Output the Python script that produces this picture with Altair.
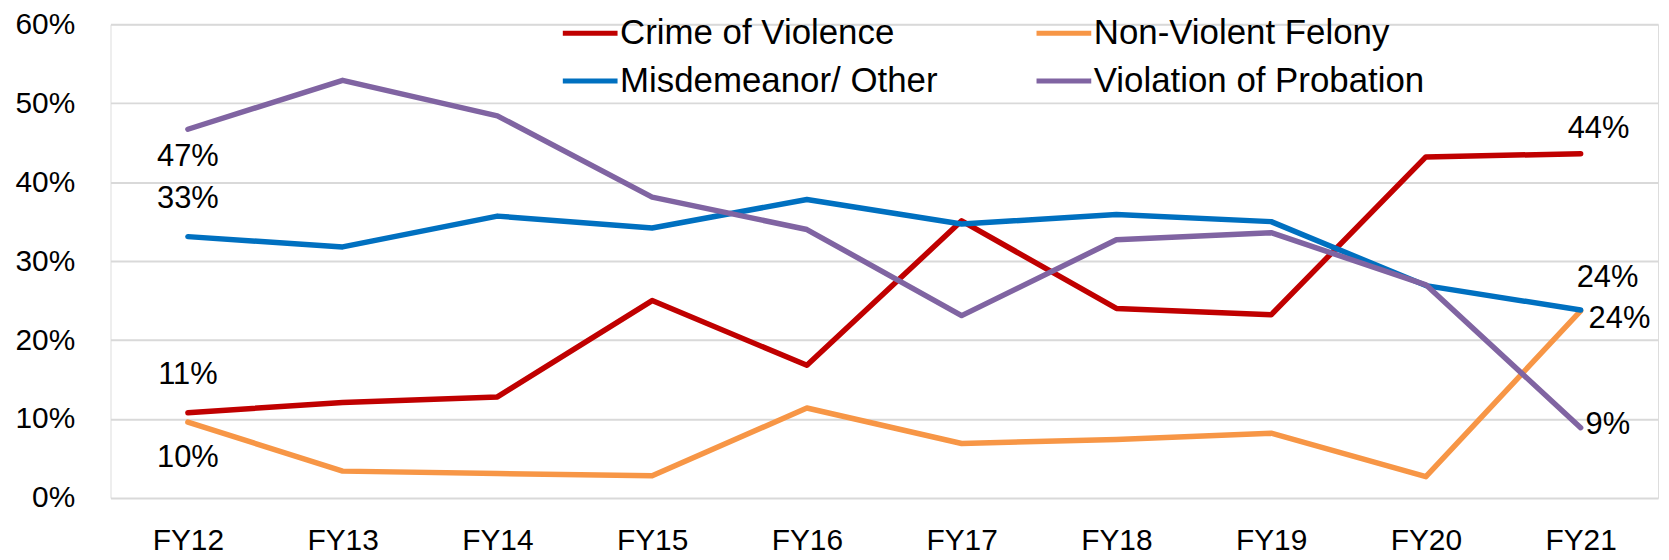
import altair as alt
import pandas as pd

years = ["FY12", "FY13", "FY14", "FY15", "FY16", "FY17", "FY18", "FY19", "FY20", "FY21"]
series_names = ["Crime of Violence", "Non-Violent Felony", "Misdemeanor/ Other", "Violation of Probation"]
crime_of_violence = [0.108, 0.121, 0.128, 0.250, 0.168, 0.351, 0.240, 0.232, 0.432, 0.436]
non_violent_felony = [0.096, 0.034, 0.031, 0.028, 0.114, 0.069, 0.074, 0.082, 0.027, 0.237]
misdemeanor_other = [0.331, 0.318, 0.357, 0.342, 0.378, 0.347, 0.359, 0.350, 0.269, 0.238]
violation_of_probation = [0.467, 0.529, 0.484, 0.381, 0.340, 0.231, 0.327, 0.336, 0.270, 0.089]
colors = ["#C00000", "#F79646", "#0070C0", "#8064A2"]

# labelled points
label_series = ["Violation of Probation", "Misdemeanor/ Other", "Crime of Violence", "Non-Violent Felony",
                "Crime of Violence", "Misdemeanor/ Other", "Non-Violent Felony", "Violation of Probation"]
label_years = ["FY12", "FY12", "FY12", "FY12", "FY21", "FY21", "FY21", "FY21"]

# label styles (dx, dy, align)
label_styles = [(0, 37, "center"), (0, -29, "center"), (0, -29, "center"), (0, 45, "center"),
                (18, -16, "center"), (27, -23, "center"), (8, 17, "left"), (5, 6, "left")]

FONT = "Liberation Sans"

all_values = [crime_of_violence, non_violent_felony, misdemeanor_other, violation_of_probation]
rows = []
for s_i, (name, vals) in enumerate(zip(series_names, all_values)):
    for y_i, (yr, v) in enumerate(zip(years, vals)):
        rows.append({"series": name, "year": yr, "value": v, "order": s_i})
df = pd.DataFrame(rows)

x_enc = alt.X("year:N", sort=years, scale=alt.Scale(padding=0.5),
              axis=alt.Axis(title=None, labelAngle=0, ticks=False, tickSize=0, domain=False,
                            labelPadding=28, labelFontSize=30, labelFont=FONT, labelColor="#000000",
                            grid=False))
y_enc = alt.Y("value:Q", scale=alt.Scale(domain=[0, 0.6], nice=False),
              axis=alt.Axis(title=None, values=[0, 0.1, 0.2, 0.3, 0.4, 0.5, 0.6], format=".0%",
                            ticks=False, domain=False, labelPadding=36, labelFontSize=30,
                            labelFont=FONT, labelColor="#000000", gridColor="#D9D9D9", gridWidth=2))

color_enc = alt.Color("series:N", sort=series_names,
                      scale=alt.Scale(domain=series_names, range=colors),
                      legend=alt.Legend(title=None, orient="none", legendX=452, legendY=-21,
                                        direction="horizontal",
                                        columns=2, symbolType="stroke", symbolSize=3025,
                                        symbolStrokeWidth=5, labelFontSize=35, labelFont=FONT,
                                        labelColor="#000000", labelOffset=0, columnPadding=88,
                                        rowPadding=-8, padding=0, labelLimit=0))

lines = alt.Chart(df).mark_line(strokeWidth=5.5, strokeJoin="round", strokeCap="round").encode(
    x=x_enc, y=y_enc, color=color_enc, order=alt.Order("order:Q")
)

layers = [lines]
for s, yr, (dx, dy, al) in zip(label_series, label_years, label_styles):
    t = alt.Chart(df).transform_filter(
        (alt.datum.series == s) & (alt.datum.year == yr)
    ).mark_text(dx=dx, dy=dy, align=al, baseline="alphabetic", fontSize=31, font=FONT,
                color="#000000").encode(
        x=alt.X("year:N", sort=years),
        y=alt.Y("value:Q"),
        text=alt.Text("value:Q", format=".0%"),
    )
    layers.append(t)

chart = alt.layer(*layers).properties(
    width=1555, height=476,
    autosize=alt.AutoSizeParams(type="none"),
    padding={"left": 103, "top": 15, "right": 3, "bottom": 61},
).configure_view(stroke=None).configure(background="#FFFFFF")

chart.save("out.html", embed_options={"renderer": "svg", "actions": False})
